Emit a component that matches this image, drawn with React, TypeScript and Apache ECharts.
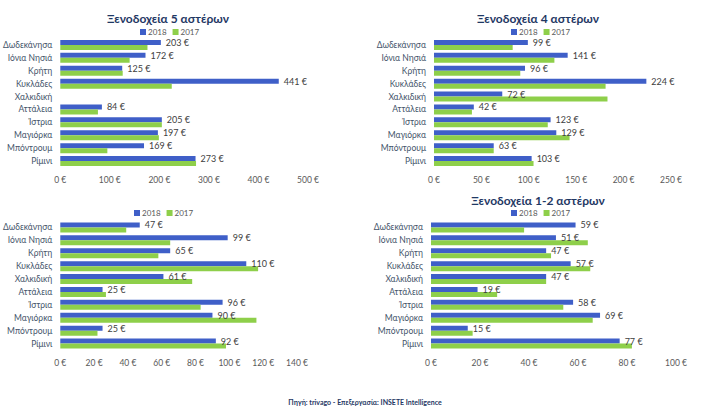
import React, { useEffect, useRef } from "react";
import * as echarts from "echarts";

const categories = ["Δωδεκάνησα", "Ιόνια Νησιά", "Κρήτη", "Κυκλάδες", "Χαλκιδική", "Αττάλεια", "Ίστρια", "Μαγιόρκα", "Μπόντρουμ", "Ρίμινι"];

const titles = ["Ξενοδοχεία 5 αστέρων", "Ξενοδοχεία 4 αστέρων", "", "Ξενοδοχεία 1-2 αστέρων"];

const star5_2018 = [203, 172, 125, 441, null, 84, 205, 197, 169, 273];
const star5_2017 = [176, 140, 126, 225, null, 76, 205, 199, 95, 274];

const star4_2018 = [99, 141, 96, 224, 72, 42, 123, 129, 63, 103];
const star4_2017 = [83, 127, 91, 181, 183, 40, 120, 143, 63, 105];

const star3_2018 = [47, 99, 65, 110, 61, 25, 96, 90, 25, 92];
const star3_2017 = [39, 65, 58, 117, 78, 27, 83, 116, 22, 98];

const star12_2018 = [59, 51, 47, 57, 47, 19, 58, 69, 15, 77];
const star12_2017 = [38, 64, 49, 65, 47, 27, 54, 66, 17, 82];

const axisMax = [500, 250, 140, 100];
const axisInterval = [100, 50, 20, 20];

const data2018 = [star5_2018, star4_2018, star3_2018, star12_2018];
const data2017 = [star5_2017, star4_2017, star3_2017, star12_2017];

const BLUE = "#3F5FC8";
const GREEN = "#8ECF4A";
const FONT = "Lato, 'Open Sans', sans-serif";

export default function App() {
  const ref = useRef<HTMLDivElement>(null);
  useEffect(() => {
    document.body.style.margin = "0";
    const chart = echarts.init(ref.current!, null, { renderer: "svg" });
    const grids = [
      { left: 59, width: 249, top: 38.5, height: 129 },
      { left: 434, width: 237, top: 38.5, height: 129 },
      { left: 57, width: 240, top: 221, height: 129 },
      { left: 431, width: 245, top: 221, height: 129 },
    ];
    const titleCenters = [
      { x: 163, y: 7 },
      { x: 533, y: 7 },
      { x: 157, y: 189 },
      { x: 533, y: 189 },
    ];
    const legendPos = [
      { x: 163, y: 23 },
      { x: 534, y: 23 },
      { x: 157, y: 204 },
      { x: 534, y: 204 },
    ];
    const series: any[] = [];
    for (let i = 0; i < 4; i++) {
      series.push({
        type: "bar",
        name: "2018",
        xAxisIndex: i,
        yAxisIndex: i,
        data: data2018[i],
        barWidth: 5,
        barGap: "0%",
        itemStyle: { color: BLUE },
        label: {
          show: true,
          position: "right",
          distance: 5,
          formatter: "{c} €",
          fontSize: 9,
          color: "#404040",
          fontFamily: FONT,
        },
      });
      series.push({
        type: "bar",
        name: "2017",
        xAxisIndex: i,
        yAxisIndex: i,
        data: data2017[i],
        barWidth: 5,
        barGap: "0%",
        itemStyle: { color: GREEN },
      });
    }
    chart.setOption({
      animation: false,
      backgroundColor: "#ffffff",
      title: titles
        .map((t, i) => ({
          text: t,
          left: titleCenters[i].x,
          top: titleCenters[i].y,
          textAlign: "center",
          textStyle: { fontSize: 12, fontWeight: "bold", color: "#1F3864", fontFamily: FONT },
        }))
        .concat([
          {
            text: "Πηγή: trivago - Επεξεργασία: INSETE Intelligence",
            left: 360,
            top: 393,
            textAlign: "center",
            textStyle: { fontSize: 7, fontWeight: "bold", color: "#1F3864", fontFamily: FONT },
          } as any,
        ]),
      legend: legendPos.map((p) => ({
        data: ["2018", "2017"],
        left: p.x - 28,
        top: p.y,
        icon: "rect",
        itemWidth: 6,
        itemHeight: 6,
        itemGap: 6,
        textStyle: { fontSize: 8, color: "#595959", fontFamily: FONT, padding: [0, 0, 0, -3] },
      })),
      grid: grids,
      xAxis: grids.map((_, i) => ({
        type: "value",
        gridIndex: i,
        min: 0,
        max: axisMax[i],
        interval: axisInterval[i],
        splitLine: { show: false },
        axisLine: { show: false },
        axisTick: { show: false },
        axisLabel: {
          formatter: "{value} €",
          fontSize: 8.5,
          color: "#595959",
          margin: 8,
          fontFamily: FONT,
        },
      })),
      yAxis: grids.map((_, i) => ({
        type: "category",
        gridIndex: i,
        data: categories,
        inverse: true,
        axisLine: { show: false },
        axisTick: { show: false },
        axisLabel: { fontSize: 8.5, color: "#44546A", margin: 8, fontFamily: FONT },
      })),
      series,
    });
    return () => chart.dispose();
  }, []);
  return <div ref={ref} style={{ width: 710, height: 406 }} />;
}
